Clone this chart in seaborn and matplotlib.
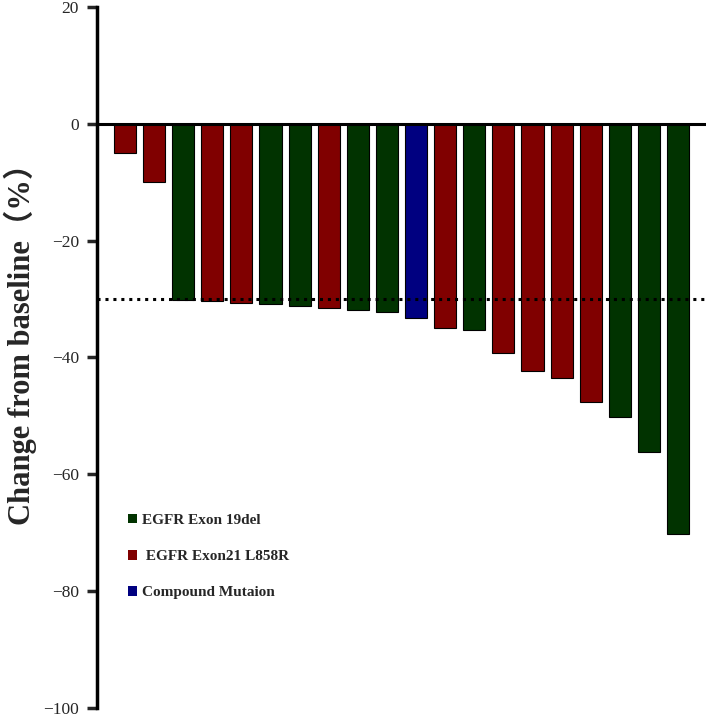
import numpy as np
import pandas as pd
import matplotlib
matplotlib.use("Agg")
import matplotlib.pyplot as plt
import seaborn as sns
from matplotlib.patches import Patch

# -------------------------------
# Data
# -------------------------------
patients = list(range(1, 21))
change = [-5, -10, -30.2, -30.3, -30.6, -30.9, -31.2, -31.6, -31.8, -32.2,
          -33.2, -34.9, -35.3, -39.2, -42.3, -43.5, -47.7, -50.2, -56.1, -70.2]
mutation = ["L858R", "L858R", "19del", "L858R", "L858R", "19del", "19del", "L858R", "19del", "19del",
            "Compound", "L858R", "19del", "L858R", "L858R", "L858R", "L858R", "19del", "19del", "19del"]

groups = ["19del", "L858R", "Compound"]
group_labels = ["EGFR Exon 19del", " EGFR Exon21 L858R", "Compound Mutaion"]
group_colors = ["#013300", "#800000", "#000080"]

df = pd.DataFrame({"patient": patients, "change": change, "mutation": mutation})

# -------------------------------
# Plot
# -------------------------------
sns.set_style("white")
plt.rcParams["font.family"] = ["Liberation Serif", "Noto Sans CJK SC", "DejaVu Sans"]

fig = plt.figure(figsize=(7.09, 7.18), dpi=100)
ax = fig.add_axes([97 / 709, 10 / 718, 609 / 709, 701 / 718])

sns.barplot(data=df, x="patient", y="change", hue="mutation",
            hue_order=groups, palette=dict(zip(groups, group_colors)),
            dodge=False, width=0.76, edgecolor="black", linewidth=0.8,
            saturation=1, legend=False, ax=ax)

# zero line and -30% threshold
ax.axhline(0, color="black", lw=2.2, zorder=3)
ax.axhline(-30, color="black", lw=2.2, ls=(0, (1, 1.6)), zorder=3)

ax.set_ylim(-100, 20)
ax.set_xlim(-0.96, 19.96)
ax.set_yticks([20, 0, -20, -40, -60, -80, -100])
ax.set_yticklabels(["20", "0", "\u221220", "\u221240", "\u221260", "\u221280", "\u2212100"])
ax.set_xticks([])
ax.set_xlabel("")
ax.set_ylabel("Change from baseline\uff08%\uff09", fontsize=22, fontweight="bold")
ax.yaxis.set_label_coords(-0.098, 0.529)

for s in ["top", "right", "bottom"]:
    ax.spines[s].set_visible(False)
ax.spines["left"].set_linewidth(2.5)
ax.spines["left"].set_color("black")
ax.tick_params(axis="y", direction="out", length=7, width=2.5, labelsize=12.5, left=True, pad=6)

handles = [Patch(facecolor=c, edgecolor="none") for c in group_colors]
leg = ax.legend(handles, group_labels, loc="upper left",
                bbox_to_anchor=(114 / 709, 1 - 500 / 718), bbox_transform=fig.transFigure,
                frameon=False, handlelength=0.6, handleheight=0.6, handletextpad=0.3,
                labelspacing=1.5, prop={"weight": "bold", "size": 11})

fig.savefig("out.png", dpi=100)
